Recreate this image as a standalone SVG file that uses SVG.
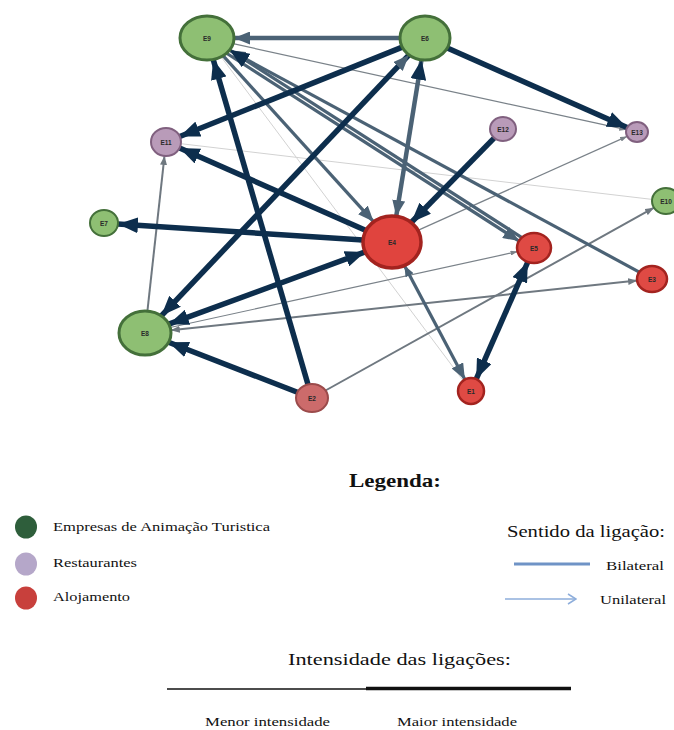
<svg xmlns="http://www.w3.org/2000/svg" width="674" height="730" viewBox="0 0 674 730">
<style>
.nav{stroke:#0d2e4d;stroke-width:5.5;fill:none}
.sl{stroke:#4b6275;stroke-width:4.5;fill:none}
.slm{stroke:#4b6275;stroke-width:3.2;fill:none}
.gr{stroke:#6f7880;stroke-width:2;fill:none}
.grt{stroke:#7a8289;stroke-width:1.2;fill:none}
.lt{stroke:#d2d2d2;stroke-width:1;fill:none}
.g{fill:#8ebf73;stroke:#44703a;stroke-width:3}
.gs{fill:#8ebf73;stroke:#44703a;stroke-width:2}
.p{fill:#b99bb9;stroke:#80607f;stroke-width:2}
.r{fill:#df4a44;stroke:#a3231f;stroke-width:2.5}
.rb{fill:#e0443e;stroke:#a3231f;stroke-width:3.5}
.rp{fill:#cc6b6b;stroke:#9b4b4b;stroke-width:2}
.lbl{font-family:"Liberation Sans",Arial,sans-serif;font-size:6.5px;font-weight:bold;fill:#2a2a2a;text-anchor:middle;dominant-baseline:central}
.ser{font-family:"Liberation Serif","Times New Roman",serif;fill:#111}
</style>
<defs>
<marker id="an" markerUnits="userSpaceOnUse" markerWidth="20" markerHeight="16" refX="20" refY="8" orient="auto-start-reverse"><path d="M0,0 L20,8 L0,16 z" fill="#0d2e4d"/></marker>
<marker id="as" markerUnits="userSpaceOnUse" markerWidth="16" markerHeight="13" refX="16" refY="6.5" orient="auto-start-reverse"><path d="M0,0 L16,6.5 L0,13 z" fill="#4b6275"/></marker>
<marker id="ass" markerUnits="userSpaceOnUse" markerWidth="11" markerHeight="9" refX="11" refY="4.5" orient="auto-start-reverse"><path d="M0,0 L11,4.5 L0,9 z" fill="#4b6275"/></marker>
<marker id="ag" markerUnits="userSpaceOnUse" markerWidth="9" markerHeight="7" refX="9" refY="3.5" orient="auto-start-reverse"><path d="M0,0 L9,3.5 L0,7 z" fill="#6f7880"/></marker>
<marker id="ags" markerUnits="userSpaceOnUse" markerWidth="7" markerHeight="5" refX="7" refY="2.5" orient="auto-start-reverse"><path d="M0,0 L7,2.5 L0,5 z" fill="#7a8289"/></marker>
<marker id="al" markerUnits="userSpaceOnUse" markerWidth="10" markerHeight="12" refX="9" refY="6" orient="auto"><path d="M1,1 L9,6 L1,11" fill="none" stroke="#8eaedb" stroke-width="1.5"/></marker>
</defs>

<g id="connectors">
<line class="lt" x1="221.1" y1="56.8" x2="463.2" y2="380.6"/>
<line class="lt" x1="180.9" y1="143.7" x2="652.1" y2="199.4"/>
<line class="grt" x1="233.1" y1="43.7" x2="626.3" y2="129.7" marker-end="url(#ags)"/>
<line class="grt" x1="417.9" y1="230.4" x2="627.1" y2="136.4" marker-end="url(#ags)"/>
<line class="grt" x1="170.2" y1="327.5" x2="517.5" y2="251.6" marker-end="url(#ags)"/>
<line class="gr" x1="170.8" y1="330.3" x2="637.1" y2="280.6" marker-start="url(#ag)" marker-end="url(#ag)"/>
<line class="gr" x1="325.5" y1="390.5" x2="654" y2="207.7" marker-end="url(#ag)"/>
<line class="gr" x1="147.4" y1="311.1" x2="164.5" y2="155.9" marker-end="url(#ag)"/>
<line class="slm" x1="639.3" y1="272.1" x2="229.5" y2="50.2" marker-end="url(#as)"/>
<line class="slm" x1="227" y1="53.5" x2="519.1" y2="241.1" marker-end="url(#as)"/>
<line class="slm" x1="521.5" y1="237.4" x2="229.4" y2="49.8" marker-end="url(#an)"/>
<line class="slm" x1="223" y1="55.7" x2="373.7" y2="221.8" marker-end="url(#as)"/>
<line class="slm" x1="404.4" y1="265.5" x2="464.9" y2="379.5" marker-start="url(#ass)" marker-end="url(#as)"/>
<line class="sl" x1="400" y1="38" x2="234" y2="38" marker-end="url(#as)"/>
<line class="sl" x1="396.2" y1="216.3" x2="421.5" y2="59.8" marker-start="url(#as)" marker-end="url(#an)"/>
<line class="nav" x1="447.3" y1="47.9" x2="627.1" y2="127.6" marker-end="url(#an)"/>
<line class="nav" x1="402.3" y1="47.1" x2="179.8" y2="136.5" marker-end="url(#an)"/>
<line class="nav" x1="161.3" y1="315.8" x2="409" y2="54.9" marker-start="url(#an)" marker-end="url(#as)"/>
<line class="nav" x1="308" y1="384.4" x2="213.2" y2="59.4" marker-end="url(#an)"/>
<line class="nav" x1="366" y1="230.5" x2="179.6" y2="148" marker-end="url(#an)"/>
<line class="nav" x1="363.1" y1="240.1" x2="118" y2="223.9" marker-end="url(#an)"/>
<line class="nav" x1="365.2" y1="251.9" x2="168.8" y2="324.2" marker-start="url(#an)" marker-end="url(#an)"/>
<line class="nav" x1="494.3" y1="137.9" x2="411.2" y2="222.5" marker-end="url(#an)"/>
<line class="nav" x1="527.8" y1="262" x2="476.2" y2="379.1" marker-start="url(#an)" marker-end="url(#an)"/>
<line class="nav" x1="297.4" y1="392.3" x2="168.6" y2="342.2" marker-end="url(#an)"/>
</g>

<g id="E9"><ellipse class="g" cx="207" cy="38" rx="27" ry="22"/><text class="lbl" x="207" y="38">E9</text></g>
<g id="E6"><ellipse class="g" cx="425" cy="38" rx="25" ry="22"/><text class="lbl" x="425" y="38">E6</text></g>
<g id="E11"><ellipse class="p" cx="166" cy="142" rx="15" ry="14"/><text class="lbl" x="166" y="142">E11</text></g>
<g id="E7"><ellipse class="gs" cx="104" cy="223" rx="14" ry="13"/><text class="lbl" x="104" y="223">E7</text></g>
<g id="E8"><ellipse class="g" cx="145" cy="333" rx="26" ry="22"/><text class="lbl" x="145" y="333">E8</text></g>
<g id="E2"><ellipse class="rp" cx="312" cy="398" rx="16" ry="14"/><text class="lbl" x="312" y="398">E2</text></g>
<g id="E4"><ellipse class="rb" cx="392" cy="242" rx="29" ry="26"/><text class="lbl" x="392" y="242">E4</text></g>
<g id="E12"><ellipse class="p" cx="503" cy="129" rx="13" ry="12"/><text class="lbl" x="503" y="129">E12</text></g>
<g id="E13"><ellipse class="p" cx="637" cy="132" rx="11" ry="10"/><text class="lbl" x="637" y="132">E13</text></g>
<g id="E10"><ellipse class="gs" cx="666" cy="201" rx="14" ry="13"/><text class="lbl" x="666" y="201">E10</text></g>
<g id="E5"><ellipse class="r" cx="534" cy="248" rx="17" ry="15"/><text class="lbl" x="534" y="248">E5</text></g>
<g id="E3"><ellipse class="r" cx="652" cy="279" rx="15" ry="13"/><text class="lbl" x="652" y="279">E3</text></g>
<g id="E1"><ellipse class="r" cx="471" cy="391" rx="13" ry="13"/><text class="lbl" x="471" y="391">E1</text></g>

<g id="legend">
<text class="ser" x="349" y="487" font-size="19" font-weight="bold" textLength="92" lengthAdjust="spacingAndGlyphs">Legenda:</text>
<ellipse cx="26" cy="527" rx="11" ry="11.5" fill="#2e5e3b"/>
<ellipse cx="26" cy="564" rx="11" ry="11.5" fill="#b5a7c9"/>
<ellipse cx="26" cy="598" rx="11" ry="11.5" fill="#c8403c"/>
<text class="ser" x="53" y="531" font-size="13" textLength="217" lengthAdjust="spacingAndGlyphs">Empresas de Animação Turistica</text>
<text class="ser" x="53" y="567" font-size="13" textLength="84" lengthAdjust="spacingAndGlyphs">Restaurantes</text>
<text class="ser" x="53" y="601" font-size="13" textLength="77" lengthAdjust="spacingAndGlyphs">Alojamento</text>
<text class="ser" x="507" y="537" font-size="16" textLength="158" lengthAdjust="spacingAndGlyphs">Sentido da ligação:</text>
<line x1="514" y1="564" x2="590" y2="564" stroke="#6f93c6" stroke-width="3"/>
<text class="ser" x="606" y="570" font-size="12" textLength="58" lengthAdjust="spacingAndGlyphs">Bilateral</text>
<line x1="505" y1="599" x2="576" y2="599" stroke="#8eaedb" stroke-width="1.5" marker-end="url(#al)"/>
<text class="ser" x="600" y="604" font-size="12" textLength="66" lengthAdjust="spacingAndGlyphs">Unilateral</text>
<text class="ser" x="288" y="665" font-size="17" textLength="223" lengthAdjust="spacingAndGlyphs">Intensidade das ligações:</text>
<line x1="167" y1="689" x2="366" y2="689" stroke="#111" stroke-width="1.5"/>
<line x1="366" y1="688.5" x2="571" y2="688.5" stroke="#111" stroke-width="3.5"/>
<text class="ser" x="205" y="726" font-size="12" textLength="125" lengthAdjust="spacingAndGlyphs">Menor intensidade</text>
<text class="ser" x="397" y="726" font-size="12" textLength="120" lengthAdjust="spacingAndGlyphs">Maior intensidade</text>
</g>
</svg>
